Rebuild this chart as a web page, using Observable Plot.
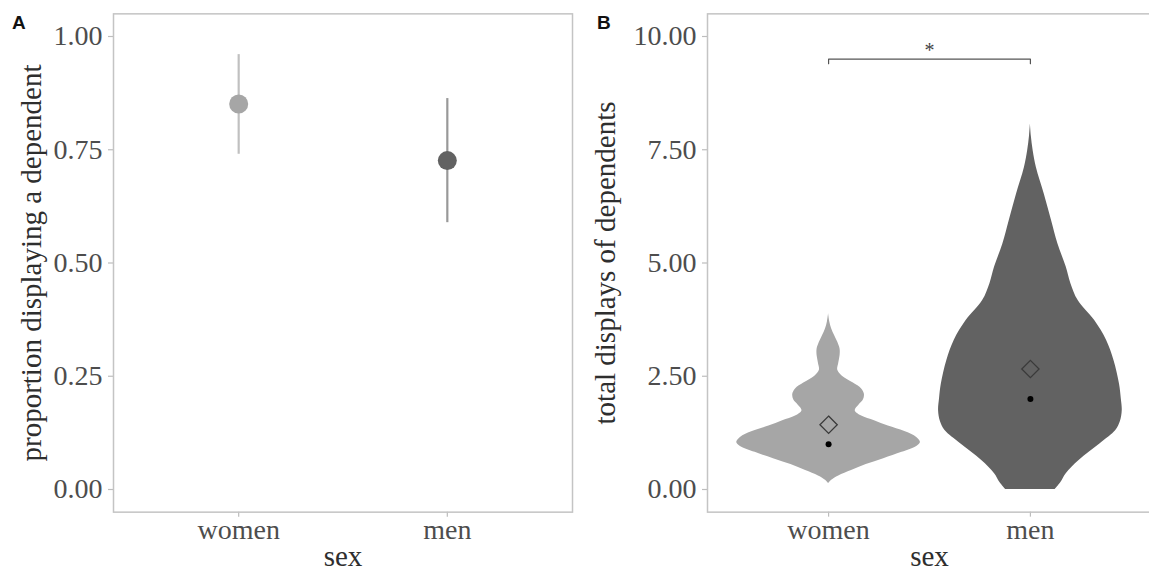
<!DOCTYPE html>
<html>
<head>
<meta charset="utf-8">
<script src="https://cdn.jsdelivr.net/npm/d3@7"></script>
<script src="https://cdn.jsdelivr.net/npm/@observablehq/plot@0.6"></script>
<style>
  html, body { margin: 0; padding: 0; background: #fff; overflow: hidden; }
  #wrap { position: relative; width: 1149px; height: 571px; overflow: hidden; }
  .panel { position: absolute; top: 0; height: 571px; }
  .panel svg { max-width: none !important; display: block; }
  .tag { position: absolute; top: 12px; font-family: "Liberation Sans", Arial, sans-serif; font-weight: bold; font-size: 19px; color: #111; z-index: 2; }
</style>
</head>
<body>
<div id="wrap">
  <div id="panelA" class="panel" style="left:0; width:580px"></div>
  <div id="panelB" class="panel" style="left:580px; width:575px"></div>
  <div class="tag" style="left:12px">A</div>
  <div class="tag" style="left:597px">B</div>
</div>
<script>
// ---- data ----
const sexes = ["women", "men"];
const sexColors = ["#a6a6a6", "#626262"];
const intervalColors = ["#c0c0c0", "#999999"];

// Panel A: proportion displaying a dependent (estimate and interval)
const propEstimate = [0.851, 0.726];
const propLower = [0.740, 0.589];
const propUpper = [0.960, 0.863];
const propTicks = [0, 0.25, 0.5, 0.75, 1];

// Panel B: violin outlines (value, relative density)
const womenViolinValue = [0.13, 0.20, 0.30, 0.42, 0.55, 0.68, 0.82, 0.95, 1.04, 1.15, 1.28, 1.40, 1.52, 1.62, 1.74, 1.86, 1.98, 2.10, 2.22, 2.35, 2.50, 2.63, 2.78, 2.95, 3.10, 3.25, 3.40, 3.55, 3.70, 3.88];
const womenViolinDensity = [0, 0.03, 0.11, 0.25, 0.41, 0.60, 0.80, 0.96, 1.0, 0.96, 0.83, 0.65, 0.50, 0.36, 0.29, 0.33, 0.38, 0.39, 0.36, 0.27, 0.15, 0.10, 0.11, 0.125, 0.125, 0.10, 0.065, 0.033, 0.013, 0];
const menViolinValue = [0, 0.15, 0.35, 0.64, 1.01, 1.30, 1.50, 1.74, 2.00, 2.33, 2.85, 3.29, 3.73, 4.17, 4.55, 4.91, 5.42, 5.94, 6.53, 7.11, 7.48, 7.80, 8.07];
const menViolinDensity = [0.27, 0.33, 0.39, 0.53, 0.76, 0.93, 0.98, 1.0, 0.99, 0.97, 0.91, 0.83, 0.70, 0.52, 0.44, 0.39, 0.30, 0.23, 0.15, 0.065, 0.03, 0.01, 0];
const totalMean = [1.43, 2.66];
const totalMedian = [1, 2];
const totalTicks = [0, 2.5, 5, 7.5, 10];
const sigPair = ["women", "men"];
const sigValue = 9.5;
const sigLabel = "*";

// ---- build tables ----
const pos = s => sexes.indexOf(s) + 1;
const propRows = sexes.map((s, i) => ({sex: s, x: i + 1, est: propEstimate[i], lo: propLower[i], hi: propUpper[i], color: sexColors[i], lineColor: intervalColors[i]}));
const violinRows = [
  ...womenViolinValue.map((v, i) => ({sex: "women", x: 1, v, d: womenViolinDensity[i], color: sexColors[0]})),
  ...menViolinValue.map((v, i) => ({sex: "men", x: 2, v, d: menViolinDensity[i], color: sexColors[1]}))
];
const summaryRows = sexes.map((s, i) => ({sex: s, x: i + 1, mean: totalMean[i], median: totalMedian[i]}));
const tip = 0.1;
const bracket = [
  {x: pos(sigPair[0]), y: sigValue - tip},
  {x: pos(sigPair[0]), y: sigValue},
  {x: pos(sigPair[1]), y: sigValue},
  {x: pos(sigPair[1]), y: sigValue - tip}
];

const font = "'Liberation Serif', 'Times New Roman', serif";
const tickColor = "#4d4d4d";
const lineColor = "#bdbdbd";
const titleColor = "#2e2e2e";
const halfMax = 0.455;

function axes(yTicks, yTitle, titleDx) {
  return [
    Plot.axisY({ticks: yTicks, tickFormat: d3.format(".2f"), tickSize: 5, tickPadding: 6, fontSize: 28, color: tickColor, stroke: lineColor, strokeWidth: 1.2, label: null}),
    Plot.axisX({ticks: [1, 2], tickFormat: d => sexes[d - 1], tickSize: 5, tickPadding: 2, fontSize: 28, color: tickColor, stroke: lineColor, strokeWidth: 1.2, label: null}),
    Plot.text([yTitle], {frameAnchor: "left", dx: titleDx, rotate: -90, textAnchor: "middle", lineAnchor: "middle", fontSize: 29, fill: titleColor}),
    Plot.text(["sex"], {frameAnchor: "bottom", dy: 45, textAnchor: "middle", lineAnchor: "middle", fontSize: 29, fill: titleColor}),
    Plot.frame({stroke: "#c4c4c4", strokeWidth: 1.5})
  ];
}

const chartA = Plot.plot({
  width: 580, height: 571,
  marginLeft: 113, marginRight: 8, marginTop: 13.35, marginBottom: 59.35,
  x: {domain: [0.4, 2.6], axis: null},
  y: {domain: [-0.05, 1.05], axis: null},
  color: {type: "identity"},
  style: {fontFamily: font, background: "white", overflow: "visible"},
  marks: [
    Plot.ruleX(propRows, {x: "x", y1: "lo", y2: "hi", stroke: "lineColor", strokeWidth: 2.2}),
    Plot.dot(propRows, {x: "x", y: "est", fill: "color", r: 9.5}),
    ...axes(propTicks, "proportion displaying a dependent", -82)
  ]
});
document.getElementById("panelA").appendChild(chartA);

const chartB = Plot.plot({
  width: 575, height: 571,
  marginLeft: 127, marginRight: 4, marginTop: 13.35, marginBottom: 59.35,
  x: {domain: [0.4, 2.6], axis: null},
  y: {domain: [-0.5, 10.5], axis: null},
  color: {type: "identity"},
  style: {fontFamily: font, background: "white", overflow: "visible"},
  marks: [
    Plot.areaX(violinRows, {y: "v", x1: d => d.x - halfMax * d.d, x2: d => d.x + halfMax * d.d, z: "sex", fill: "color", curve: "catmull-rom"}),
    Plot.dot(summaryRows, {x: "x", y: "mean", symbol: "diamond2", r: 7.8, fill: "none", stroke: "#3a3a3a", strokeWidth: 1.3}),
    Plot.dot(summaryRows, {x: "x", y: "median", r: 3, fill: "black"}),
    Plot.line(bracket, {x: "x", y: "y", stroke: "#555", strokeWidth: 1.2}),
    Plot.text([sigLabel], {x: (pos(sigPair[0]) + pos(sigPair[1])) / 2, y: sigValue, dy: -9, lineAnchor: "middle", fontSize: 20, fill: "#444"}),
    ...axes(totalTicks, "total displays of dependents", -102)
  ]
});
document.getElementById("panelB").appendChild(chartB);
</script>
</body>
</html>
